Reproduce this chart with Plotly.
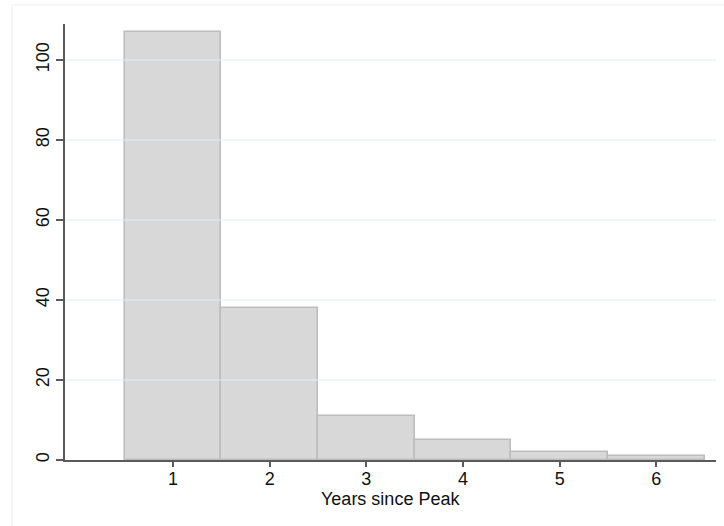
import plotly.graph_objects as go

# Histogram counts by years since peak
years = [1, 2, 3, 4, 5, 6]
counts = [107, 38, 11, 5, 2, 1]
y_ticks = [0, 20, 40, 60, 80, 100]
x_ticks = [1, 2, 3, 4, 5, 6]
x_title = "Years since Peak"

FONT = "Liberation Sans, Arial, sans-serif"
GRID = "#e3eef0"
AXIS = "#5a5a5a"
TICK_FONT = dict(family=FONT, size=18, color="#111")

fig = go.Figure()
fig.add_trace(go.Bar(
    x=years, y=counts, width=1,
    marker=dict(color="#d8d8d8", line=dict(color="#bdbdbd", width=1.6)),
    hoverinfo="x+y",
))

# gridlines drawn over the bars
for t in y_ticks[1:]:
    fig.add_shape(type="line", xref="paper", yref="y", x0=0, x1=1, y0=t, y1=t,
                  line=dict(color=GRID, width=1), layer="above")

# light outer frame around the graph region
fig.add_shape(type="rect", xref="paper", yref="paper",
              x0=-0.0814, x1=1.2, y0=-0.3, y1=1.0436,
              line=dict(color="#eef1f2", width=1), layer="below")

fig.add_annotation(text=x_title, xref="paper", yref="paper", x=0.5, y=-0.0885,
                   showarrow=False, xanchor="center", yanchor="middle",
                   font=dict(family=FONT, size=18, color="#111"))

fig.update_layout(
    width=724, height=526,
    margin=dict(l=65, r=8, t=24, b=66),
    paper_bgcolor="white", plot_bgcolor="white",
    bargap=0, showlegend=False,
    font=dict(family=FONT, size=18, color="#111"),
    xaxis=dict(range=[-0.117, 6.617], tickmode="array", tickvals=x_ticks,
               ticktext=[str(v) for v in x_ticks], ticks="outside", ticklen=5,
               tickwidth=1.5, tickcolor=AXIS, showline=True, linecolor=AXIS, linewidth=1.5,
               showgrid=False, zeroline=False, tickfont=TICK_FONT, ticklabelstandoff=-3),
    yaxis=dict(range=[0, 109], tickmode="array", tickvals=y_ticks,
               ticktext=[str(v) for v in y_ticks], ticks="outside", ticklen=7,
               tickwidth=1.5, tickcolor=AXIS, showline=True, linecolor=AXIS, linewidth=1.5,
               showgrid=False, zeroline=False, tickangle=-90, tickfont=TICK_FONT),
)

fig.write_html("out.html")
